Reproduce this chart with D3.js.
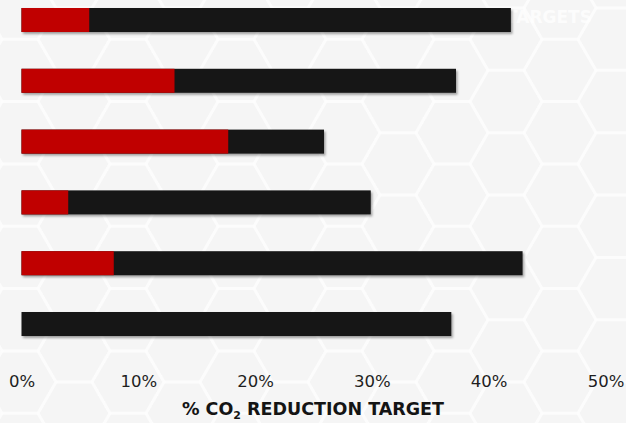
<!DOCTYPE html>
<html>
<head>
<meta charset="utf-8">
<script src="https://cdn.jsdelivr.net/npm/d3@7"></script>
<style>
  html, body { margin: 0; padding: 0; background: #f6f6f6; }
  svg { display: block; }
</style>
</head>
<body>
<svg id="chart" width="626" height="423"></svg>
<script>
// Reduction targets per row: achieved portion (red) and full target (black)
const categories = ["Row 1", "Row 2", "Row 3", "Row 4", "Row 5", "Row 6"];
const achieved = [5.8, 13.1, 17.7, 4.0, 7.9, 0];
const target = [41.9, 37.2, 25.9, 29.9, 42.9, 36.8];
const tickValues = [0, 10, 20, 30, 40, 50];

const W = 626, H = 423;
const svg = d3.select("#chart");

// soft hexagon backdrop
const bg = svg.append("g");
bg.append("rect").attr("width", W).attr("height", H).attr("fill", "#f5f5f5");
const r = 36, hStep = 1.5 * r, vStep = Math.sqrt(3) * r;
const hexPts = d3.range(6).map(i => {
  const a = Math.PI / 3 * i;
  return [r * Math.cos(a), r * Math.sin(a)];
});
const hexPath = "M" + hexPts.map(p => p.join(",")).join("L") + "Z";
for (let c = -1; c * hStep < W + r; c++) {
  for (let k = -1; k * vStep < H + r; k++) {
    const cx = 20 + c * hStep;
    const cy = 8 + k * vStep + (c % 2 ? vStep / 2 : 0);
    bg.append("path")
      .attr("d", hexPath)
      .attr("transform", `translate(${cx},${cy})`)
      .attr("fill", "none")
      .attr("stroke", "#ffffff")
      .attr("stroke-opacity", 0.45)
      .attr("stroke-width", 3);
  }
}

// faint heading behind the top bar
svg.append("text")
  .attr("x", 506).attr("y", 23)
  .attr("font-family", "DejaVu Sans, sans-serif")
  .attr("font-weight", "bold")
  .attr("font-size", 17)
  .attr("fill", "#ffffff")
  .attr("fill-opacity", 0.75)
  .text("TARGETS");

const defs = svg.append("defs");
const f = defs.append("filter").attr("id", "shadow")
  .attr("x", "-5%").attr("y", "-30%").attr("width", "110%").attr("height", "170%");
f.append("feDropShadow")
  .attr("dx", 1.5).attr("dy", 2)
  .attr("stdDeviation", 1.2)
  .attr("flood-color", "#000").attr("flood-opacity", 0.35);

const x = d3.scaleLinear().domain([0, 50]).range([21.5, 605.5]);
const y = d3.scaleBand().domain(categories)
  .range([-10.4, 354.4]).paddingInner(0.605).paddingOuter(0.3025);

const rows = categories.map((c, i) => ({ c, a: achieved[i], t: target[i] }));

const bars = svg.append("g");
bars.selectAll("rect.total").data(rows).join("rect")
  .attr("class", "total")
  .attr("x", x(0))
  .attr("y", d => y(d.c))
  .attr("width", d => x(d.t) - x(0))
  .attr("height", y.bandwidth())
  .attr("fill", "#161616")
  .attr("filter", "url(#shadow)");

bars.selectAll("rect.done").data(rows.filter(d => d.a > 0)).join("rect")
  .attr("class", "done")
  .attr("x", x(0))
  .attr("y", d => y(d.c))
  .attr("width", d => x(d.a) - x(0))
  .attr("height", y.bandwidth())
  .attr("fill", "#c00000");

// x axis: percentage labels only
const axis = svg.append("g")
  .attr("transform", "translate(0,375)")
  .call(d3.axisBottom(x).tickValues(tickValues).tickSize(0).tickPadding(0)
    .tickFormat(d => d + "%"));
axis.select(".domain").remove();
axis.selectAll("text")
  .attr("font-family", "DejaVu Sans, sans-serif")
  .attr("font-size", 16.5)
  .attr("fill", "#1e1e1e");

const title = svg.append("text")
  .attr("x", W / 2).attr("y", 415)
  .attr("text-anchor", "middle")
  .attr("font-family", "DejaVu Sans, sans-serif")
  .attr("font-weight", "bold")
  .attr("font-size", 17.5)
  .attr("fill", "#141414");
title.append("tspan").text("% CO");
title.append("tspan").attr("font-size", 11).attr("dy", 4).text("2");
title.append("tspan").attr("dy", -4).text(" REDUCTION TARGET");
</script>
</body>
</html>
